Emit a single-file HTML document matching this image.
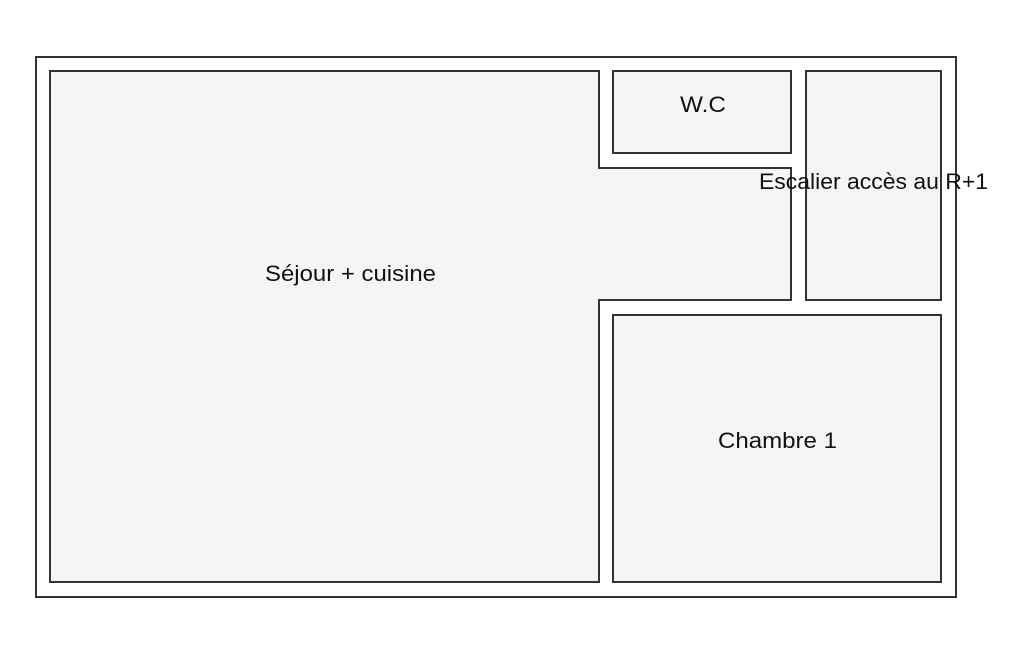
<!DOCTYPE html>
<html><head><meta charset="utf-8"><style>
html,body{margin:0;padding:0;background:#fff;width:1025px;height:650px;overflow:hidden}
svg{display:block}
text{font-family:"Liberation Sans","DejaVu Sans",sans-serif;font-size:22px;fill:#111}
</style></head><body>
<svg width="1025" height="650" viewBox="0 0 1025 650">
<rect x="36" y="57" width="920" height="540" fill="#fff" stroke="#333" stroke-width="2"/>
<polygon points="50,71 599,71 599,168 791,168 791,300 599,300 599,582 50,582" fill="#f5f5f5" stroke="#333" stroke-width="2"/>
<rect x="613" y="71" width="178" height="82" fill="#f5f5f5" stroke="#333" stroke-width="2"/>
<rect x="806" y="71" width="135" height="229" fill="#f5f5f5" stroke="#333" stroke-width="2"/>
<rect x="613" y="315" width="328" height="267" fill="#f5f5f5" stroke="#333" stroke-width="2"/>
<text x="265" y="281" textLength="171" lengthAdjust="spacingAndGlyphs">Séjour + cuisine</text>
<text x="680" y="112" textLength="46" lengthAdjust="spacingAndGlyphs">W.C</text>
<text x="759" y="189" textLength="229" lengthAdjust="spacingAndGlyphs">Escalier accès au R+1</text>
<text x="718" y="448" textLength="119" lengthAdjust="spacingAndGlyphs">Chambre 1</text>
</svg>
</body></html>
